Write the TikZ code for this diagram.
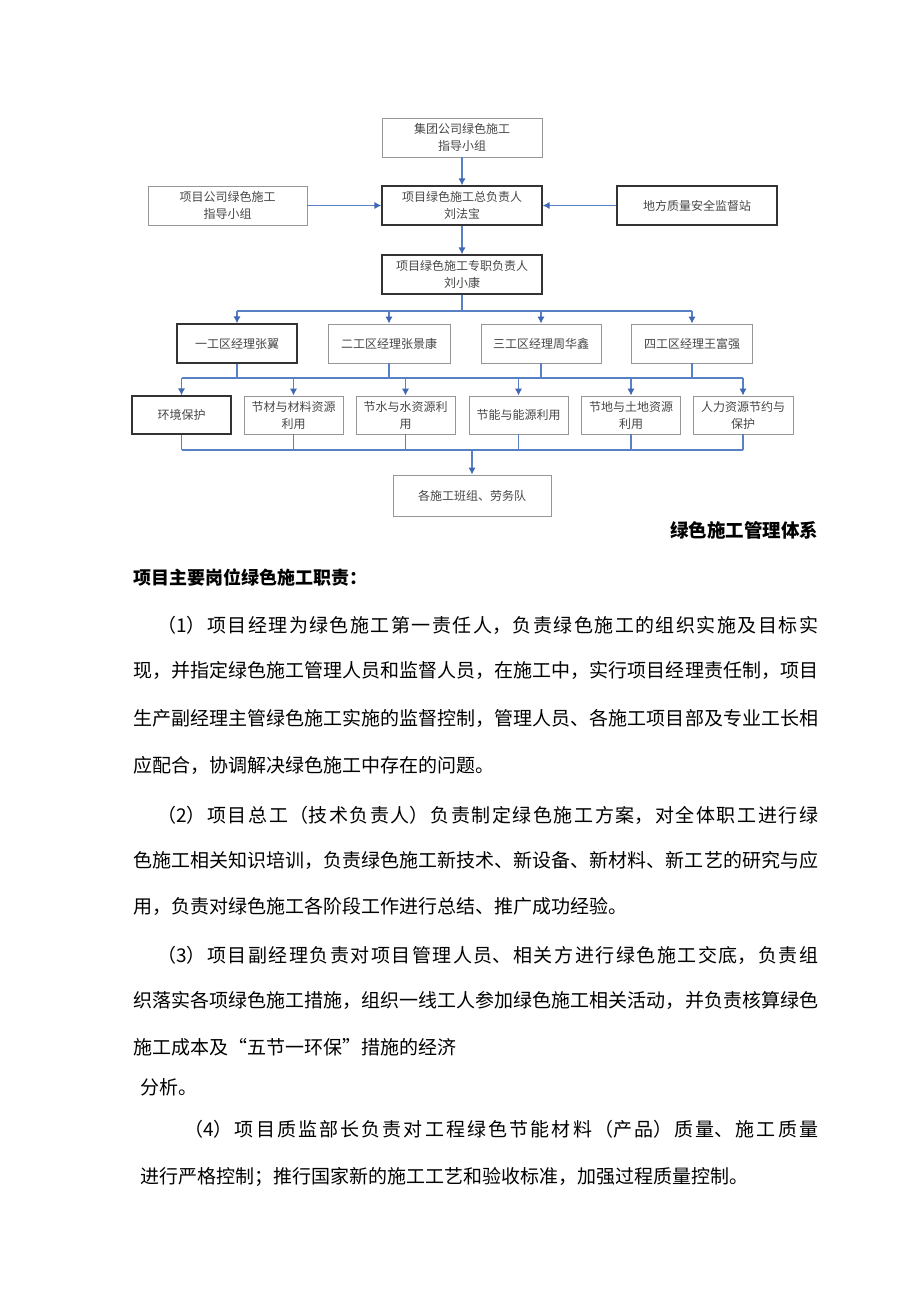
\documentclass[tikz,border=0pt]{standalone}
\usepackage{fontspec}
\setmainfont{Noto Sans CJK SC}
\usetikzlibrary{arrows.meta}
\usetikzlibrary{positioning}
\XeTeXlinebreaklocale "zh"
\XeTeXlinebreakskip=0pt plus 3pt
\definecolor{linkblue}{RGB}{88,128,196}
\definecolor{tipblue}{RGB}{62,104,180}
\definecolor{boxgray}{RGB}{150,150,150}
\definecolor{txtgray}{RGB}{70,70,70}
\tikzset{
  box/.style={draw=boxgray, line width=0.9pt, minimum height=39pt, align=center,
    text=txtgray, font=\fontsize{12}{17}\selectfont, inner sep=2pt},
  darkbox/.style={box, draw=black!80, line width=1.4pt},
  link/.style={draw=linkblue, line width=1.4pt},
  arr/.style={link, -{Latex[length=7pt,width=7.5pt,color=tipblue]}},
  line/.style={anchor=west, inner sep=0pt, font=\fontsize{19}{23}\selectfont},
}
\newcommand{\fullline}[2]{\parbox{#1}{\parfillskip=0pt #2\par}}

\begin{document}
\begin{tikzpicture}[x=1pt,y=-1pt]
\useasboundingbox (0,0) rectangle (920,1301);
% chart
\node[box, minimum width=160pt] (grp) at (462,137.5) {集团公司绿色施工\\指导小组};
\node[box, minimum width=159pt] (co) at (227.5,205.5) {项目公司绿色施工\\指导小组};
\node[darkbox, minimum width=160pt] (chief) at (462,205.5) {项目绿色施工总负责人\\刘法宝};
\node[darkbox, minimum width=160pt] (sta) at (697,205.5) {地方质量安全监督站};
\node[darkbox, minimum width=160pt] (lead) at (462,274.5) {项目绿色施工专职负责人\\刘小康};

\node[darkbox, minimum width=120pt] (z1) at (237,343.5) {一工区经理张翼};
\node[box, minimum width=122pt] (z2) at (389,343.5) {二工区经理张景康};
\node[box, minimum width=120pt] (z3) at (541,343.5) {三工区经理周华鑫};
\node[box, minimum width=121pt] (z4) at (692,343.5) {四工区经理王富强};

\node[darkbox, minimum width=99pt, minimum height=38pt] (r1) at (181.5,415) {环境保护};
\node[box, minimum width=99pt, minimum height=38pt] (r2) at (293.5,415) {节材与材料资源\\利用};
\node[box, minimum width=99pt, minimum height=38pt] (r3) at (405.5,415) {节水与水资源利\\用};
\node[box, minimum width=99pt, minimum height=38pt] (r4) at (518.5,415) {节能与能源利用};
\node[box, minimum width=99pt, minimum height=38pt] (r5) at (631,415) {节地与土地资源\\利用};
\node[box, minimum width=100pt, minimum height=38pt] (r6) at (743,415) {人力资源节约与\\保护};

\node[box, minimum width=158pt, minimum height=41pt] (team) at (472,495.5) {各施工班组、劳务队};

\coordinate (bus1) at (462,311);
\coordinate (bus2) at (472,378);
\coordinate (bus3) at (472,450);

\draw[arr] (grp) -- (chief);
\draw[arr] (co) -- (chief);
\draw[arr] (sta) -- (chief);
\draw[arr] (chief) -- (lead);
\draw[link] (lead.south) -- (bus1);
\draw[link] (z1.north |- bus1) -- (z4.north |- bus1);
\foreach \z in {z1,z2,z3,z4} {
  \draw[arr] (\z.north |- bus1) -- (\z.north);
  \draw[link] (\z.south) -- (\z.south |- bus2);
}
\draw[link] (r1.north |- bus2) -- (r6.north |- bus2);
\foreach \r in {r1,r2,r3,r4,r5,r6} {
  \draw[arr] (\r.north |- bus2) -- (\r.north);
  \draw[link] (\r.south) -- (\r.south |- bus3);
}
\draw[link] (r1.south |- bus3) -- (r6.south |- bus3);
\draw[arr] (bus3) -- (team);

% text
\node[anchor=east, font=\bfseries\fontsize{18.5}{22}\selectfont] (cap) at (822,530) {绿色施工管理体系};
\node[anchor=west, font=\bfseries\fontsize{18}{22}\selectfont] (head) at (130,578) {项目主要岗位绿色施工职责：};

\node[line] (p1a) at (157,625) {\fullline{661pt}{（1）项目经理为绿色施工第一责任人，负责绿色施工的组织实施及目标实}};
\node[line] (p1b) at (133,670) {\fullline{685pt}{现，并指定绿色施工管理人员和监督人员，在施工中，实行项目经理责任制，项目}};
\node[line] (p1c) at (133,718) {\fullline{685pt}{生产副经理主管绿色施工实施的监督控制，管理人员、各施工项目部及专业工长相}};
\node[line] (p1d) at (133,765) {应配合，协调解决绿色施工中存在的问题。};

\node[line] (p2a) at (157,815) {\fullline{661pt}{（2）项目总工（技术负责人）负责制定绿色施工方案，对全体职工进行绿}};
\node[line] (p2b) at (133,860) {\fullline{685pt}{色施工相关知识培训，负责绿色施工新技术、新设备、新材料、新工艺的研究与应}};
\node[line] (p2c) at (133,906) {用，负责对绿色施工各阶段工作进行总结、推广成功经验。};

\node[line] (p3a) at (157,955) {\fullline{661pt}{（3）项目副经理负责对项目管理人员、相关方进行绿色施工交底，负责组}};
\node[line] (p3b) at (133,1000) {\fullline{685pt}{织落实各项绿色施工措施，组织一线工人参加绿色施工相关活动，并负责核算绿色}};
\node[line] (p3c) at (133,1047) {施工成本及“五节一环保”措施的经济};
\node[line] (p3d) at (140,1087) {分析。};

\node[line] (p4a) at (184,1129) {\fullline{634pt}{（4）项目质监部长负责对工程绿色节能材料（产品）质量、施工质量}};
\node[line] (p4b) at (140,1177) {进行严格控制；推行国家新的施工工艺和验收标准，加强过程质量控制。};
\end{tikzpicture}
\end{document}
